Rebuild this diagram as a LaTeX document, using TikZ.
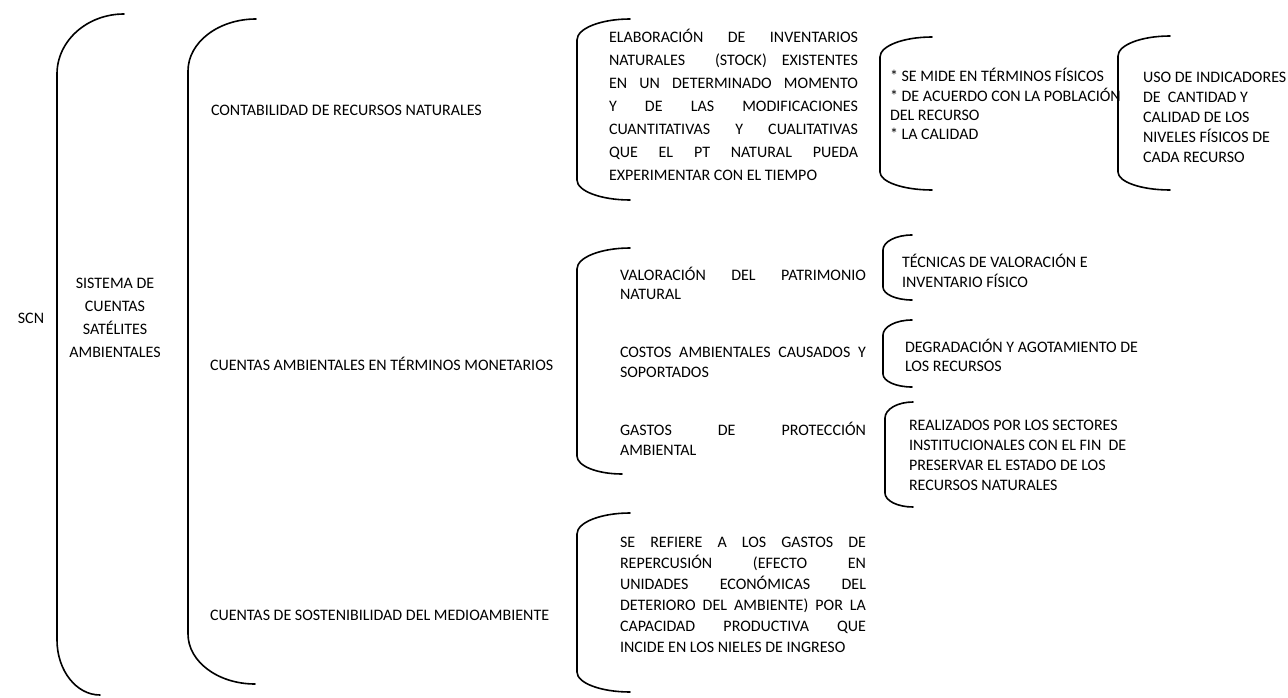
\documentclass[tikz,border=0pt]{standalone}
\usepackage{fontspec}
\setmainfont{Carlito}
\newcommand\jus[2]{\makebox[#1pt][s]{#2}}
\newcommand\brkt[7]{%
 \pgfmathsetmacro\ka{#2-0.552*(#2-#1)}%
 \pgfmathsetmacro\kb{#3+#5}%
 \pgfmathsetmacro\kc{#3+0.448*#5}%
 \pgfmathsetmacro\kd{#4-#7}%
 \pgfmathsetmacro\ke{#4-0.448*#7}%
 \pgfmathsetmacro\kf{#6-0.552*(#6-#1)}%
 \draw[brk] (#2,#3) .. controls (\ka,#3) and (#1,\kc) .. (#1,\kb) -- (#1,\kd) .. controls (#1,\ke) and (\kf,#4) .. (#6,#4);}
\tikzset{
 brk/.style={line width=1.6pt, line cap=round},
 txt/.style={inner sep=0pt, outer sep=0pt, align=left, anchor=north west},
 one/.style={inner sep=0pt, outer sep=0pt, anchor=base west},
 fA/.style={font=\fontsize{16}{23}\selectfont},
 fB/.style={font=\fontsize{16}{19.5}\selectfont},
 fC/.style={font=\fontsize{16}{20}\selectfont},
 fD/.style={font=\fontsize{16}{21}\selectfont},
 fE/.style={font=\fontsize{16}{19}\selectfont}
}
\begin{document}
\begin{tikzpicture}[x=1pt,y=-1pt]
\useasboundingbox (0,0) rectangle (1288,698);
% brackets
\brkt{57}{124}{14}{695}{60}{100}{55}
\brkt{188}{256}{19}{684}{52}{255}{50}
\brkt{577}{630}{19}{200}{21}{630}{20}
\brkt{880}{932}{37}{190}{20}{932}{18}
\brkt{1118}{1170}{36}{190}{20}{1170}{18}
\brkt{577}{630}{248}{474}{21}{622}{18}
\brkt{883}{912}{235}{300}{15}{912}{13}
\brkt{883}{912}{320}{387}{15}{912}{13}
\brkt{885}{913}{402}{507}{16}{913}{14}
\brkt{577}{630}{513}{692}{21}{630}{20}
% texts
\node[fA, inner sep=0pt, anchor=base] (scn) at (31,323.2) {SCN};
\node[fA, inner sep=0pt, align=center, anchor=north] (scsa) at (115,272.1)
 {\strut SISTEMA DE\\CUENTAS\\SATÉLITES\\AMBIENTALES};
\node[fA, one] (crn) at (211,115.2) {CONTABILIDAD DE RECURSOS NATURALES};
\node[fA, one] (catm) at (210,370.2) {CUENTAS AMBIENTALES EN TÉRMINOS MONETARIOS};
\node[fA, one] (csm) at (210,620.2) {CUENTAS DE SOSTENIBILIDAD DEL MEDIOAMBIENTE};
\node[fA, txt] (elab) at (609,26.1)
 {\strut\jus{249}{ELABORACIÓN DE INVENTARIOS}\\
  \jus{249}{NATURALES\ \ (STOCK) EXISTENTES}\\
  \jus{249}{EN UN DETERMINADO MOMENTO}\\
  \jus{249}{Y DE LAS MODIFICACIONES}\\
  \jus{249}{CUANTITATIVAS Y CUALITATIVAS}\\
  \jus{249}{QUE EL PT NATURAL PUEDA}\\
  EXPERIMENTAR CON EL TIEMPO};
\node[fE, txt] (mide) at (890,67.9)
 {\strut * SE MIDE EN TÉRMINOS FÍSICOS\\* DE ACUERDO CON LA POBLACIÓN\\DEL RECURSO\\* LA CALIDAD};
\node[fC, txt] (uso) at (1143,68.2)
 {\strut USO DE INDICADORES\\DE\ \ CANTIDAD Y\\CALIDAD DE LOS\\NIVELES FÍSICOS DE\\CADA RECURSO};
\node[fB, txt] (valor) at (620,266.5)
 {\strut\jus{246}{VALORACIÓN DEL PATRIMONIO}\\NATURAL};
\node[fC, txt] (costos) at (620,343.2)
 {\strut\jus{246}{COSTOS AMBIENTALES CAUSADOS Y}\\SOPORTADOS};
\node[fC, txt] (gastos) at (620,421.2)
 {\strut\jus{246}{GASTOS DE PROTECCIÓN}\\AMBIENTAL};
\node[fC, txt] (tecn) at (902,253.2)
 {\strut TÉCNICAS DE VALORACIÓN E\\INVENTARIO FÍSICO};
\node[fE, txt] (degr) at (905,338.9)
 {\strut DEGRADACIÓN Y AGOTAMIENTO DE\\LOS RECURSOS};
\node[fC, txt] (real) at (909,416.2)
 {\strut REALIZADOS POR LOS SECTORES\\INSTITUCIONALES CON EL FIN\ \ DE\\PRESERVAR EL ESTADO DE LOS\\RECURSOS NATURALES};
\node[fD, txt] (refi) at (620,532.5)
 {\strut\jus{246}{SE REFIERE A LOS GASTOS DE}\\
  \jus{246}{REPERCUSIÓN (EFECTO EN}\\
  \jus{246}{UNIDADES ECONÓMICAS DEL}\\
  \jus{246}{DETERIORO DEL AMBIENTE) POR LA}\\
  \jus{246}{CAPACIDAD PRODUCTIVA QUE}\\
  INCIDE EN LOS NIELES DE INGRESO};
\end{tikzpicture}
\end{document}
